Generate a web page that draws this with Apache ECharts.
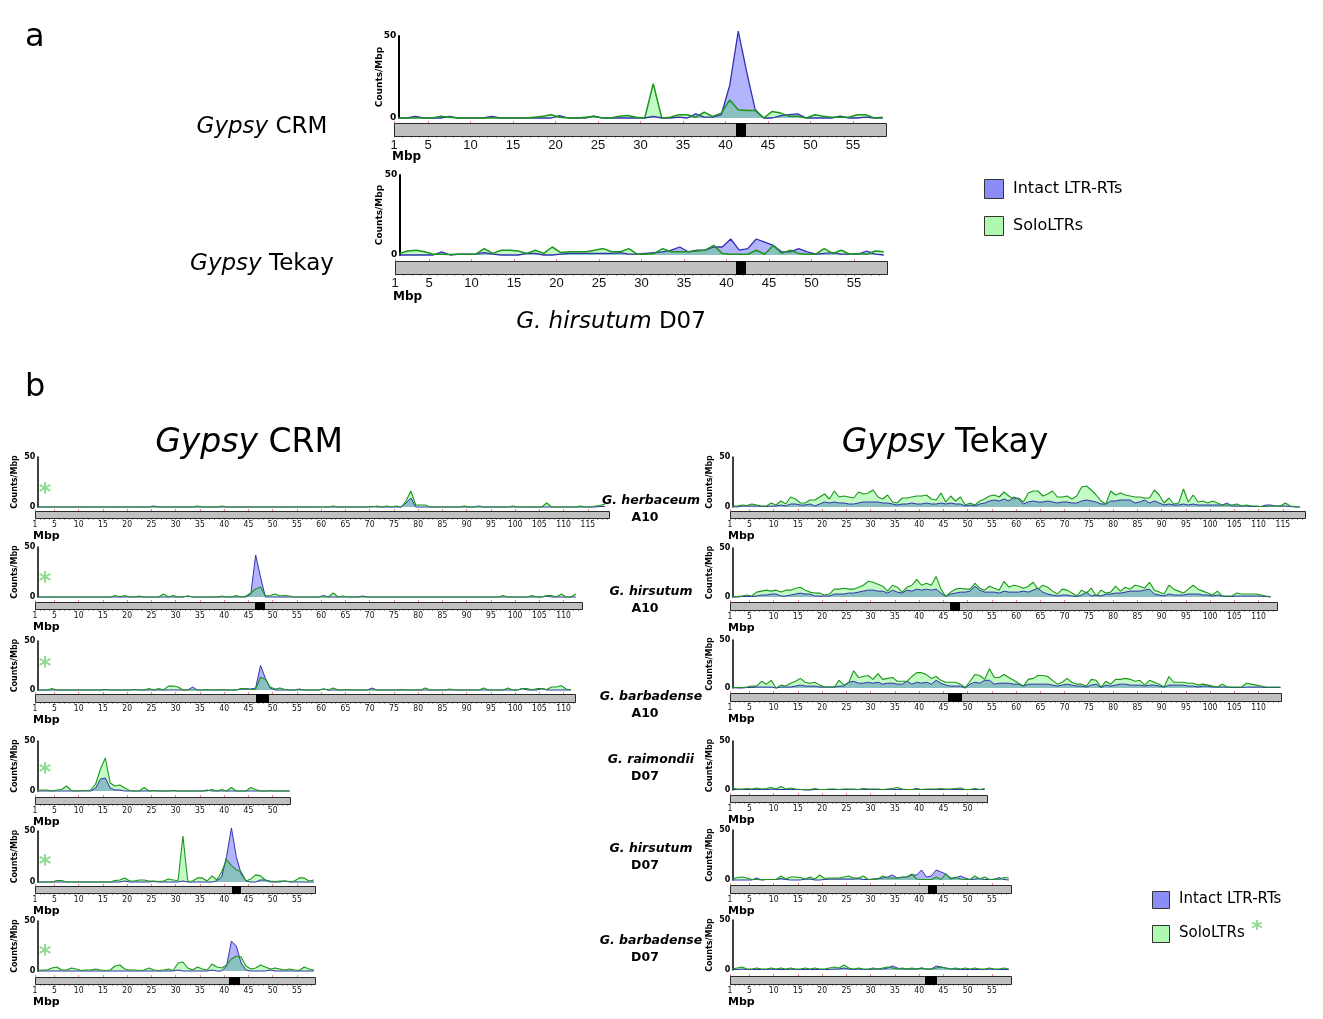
<!DOCTYPE html>
<html><head><meta charset="utf-8">
<script src="https://cdn.jsdelivr.net/npm/echarts@6/dist/echarts.min.js"></script>
<style>html,body{margin:0;padding:0;background:#fff}#c{width:1323px;height:1019px}</style>
</head><body><div id="c"></div>
<script>
// ---------- tick labels (Mbp) ----------
const ticks119 = [1,5,10,15,20,25,30,35,40,45,50,55,60,65,70,75,80,85,90,95,100,105,110,115];
const ticks113 = [1,5,10,15,20,25,30,35,40,45,50,55,60,65,70,75,80,85,90,95,100,105,110];
const ticks58 = [1,5,10,15,20,25,30,35,40,45,50,55];
const ticks53 = [1,5,10,15,20,25,30,35,40,45,50];
// values are counts per 1-Mbp window; window i is plotted at 1.5 + i Mbp
// ---------- panel a : G. hirsutum D07 ----------
const aCrmIntact = [0,0,1,0,0,0,1,0,0,0, 0,1,0,0,0,0,0,0,0,1.5, 0,0,0,1.2,0,0,0,0,0,0,
 1,0,0,0.5,0,2.5,0.5,0.5,2,20, 53,28,5,0,0,1.5,2,2.5,0,0, 0,0,1.2,0,0,0.5,0,0];
const aCrmSolo = [0,0,0,0,0,1,0.5,0,0,0, 0,0,0,0,0,0,0.5,1,2,0.5, 0,0,0.5,1,0,0,1,1.5,0.5,0,
 21,0,0.5,2,2,0.5,3.5,1,3,11, 5,4.5,4.5,0,4,3,1,1,0,2, 1,0.5,0.5,0.5,2,2,0,0.5];
const aTekayIntact = [0,0,0,0,0,2,0,0.5,0.5,0.5, 1.5,0.5,0,0,0,1,1,0,0,0.5, 1,1,1,1,1,1,1.5,0.5,0.5,1,
 1.5,2,3,5,2,3,3,5,5,10, 3,4,10,8,6,2,2,4,2,0.5, 1,1.5,0.5,0.5,0.5,2.5,0.5,0];
const aTekaySolo = [1,2.5,3,2,0.5,0.5,0.3,0.5,0.5,0.5, 4,1,3,3,2.5,1,3,1,5,1.5, 2,2,2,3,4,2,2,4,0.5,0.5,
 1,4,2,2,2,2.5,3,6,1,0.5, 0.5,0.5,3,0.5,6,1,3,1,0.5,0.5, 4,1,3,0.5,1,0.5,2.5,2];
// ---------- panel b ----------
const herbA10CrmIntact = [0,0,0,0,0,0,0,0,0,0, 0,0,0,0,0,0,0,0,0,0, 0,0,0,0,1,0,0,0,0,0, 0,0,0,0,0,0,0,0,0,0,
 0,0,0,0,0,0,0,0,0,0, 0,0,0,0,0,0,0,0,0,0, 0,0,0,0,0,0,0,0,0,0.5, 0,0,0,0,0,0,4,9,0,0,
 0,0,0,0,0,0,0,0,0,0, 0,1,0,0,0,0,0,0,0,0, 0,0,0,0,0,0,0,0,0,0, 0,0,0,0,0,0,0.5,0.5];
const herbA10CrmSolo = [0,0,0,0,0,0,0,0,0,0, 0,0,0,0,0,0,0,0,0,0, 0,0,0,0,0,0,0,0,0,0, 0,0,0,1,0,0,0,0,1,0,
 0,0,0,0,0,0,0,0,0,0, 0,0,0,0,0,0,0,0,0,0, 0,1,0,0,0,0,0,0,0,0, 1,0,1,0,1,0,6,16,2,2,
 2,0,0,0,0,0,0,0,1,0, 0,0,0,0,0,0,0,0,1,0, 0,0,0,0,0,4,0,0,0,0, 0,0,1,0,0,1,1.5,3];
const herbA10TekayIntact = [0.5,0,1,1,1,1,0.5,0.5,1,1, 2,1,3,3,2,2,3,1,3,5, 4,5,4,4,3,3,4,5,5,5, 5,4,4,3,2,3,3,4,3,3,
 4,3,3,4,3,4,3,3,1,2, 1,3,4,6,7,6,8,6,10,8, 3,5,6,5,5,6,5,4,5,5, 4,4,6,7,6,5,3,3,6,6,
 7,7,7,4,5,7,4,6,4,2, 3,2,2,3,2,3,2,2,2,2, 2,2,4,1,1,1,1,0.5,0.5,0.5, 2,2,1,1,1,0.5,0,0];
const herbA10TekaySolo = [1,1,2,1.5,3,2,1,1,4,2, 6,3,10,8,4,4,7,7,10,13, 8,16,10,11,10,9,15,13,14,17, 10,8,12,5,4,9,9,10,11,11,
 12,8,7,14,5,11,6,10,2,4, 2,6,8,11,12,10,15,11,8,9, 5,14,16,16,11,13,16,10,10,11, 8,11,20,21,17,12,6,3,16,12,
 14,12,11,10,10,9,9,17,12,4, 9,3,4,18,5,12,5,6,4,6, 4,2,2,2,3,1,2,1,1,0.5, 0.5,1,1,1,4,1,0.5,0];
const hirsA10CrmIntact = [0,0,0,0,0,0,0,0,0,0, 0,0,0,0,0,0,0,0,0,0, 0,0,0,0,0,0,0,0,0,0, 0,1,0,0,0,0,0,0,0,0,
 0,0,0,0,3,42,20,0,0,0, 0,0,0,0,0,0,0,0,0,1.5, 0,0,0,0,0,0,0,1,0,0, 0,0,0,0,0,0,0,0,0,0,
 0,0,0,0,0,0,0,0,0,0, 0,0,0,0,0,0,0,0,0,0, 0,0,0,0,0,1,0,0,0,0, 0,0];
const hirsA10CrmSolo = [0,0,0,0,0,0,0,0,0,0, 0,0,0,0,0,0,1.5,0,1.5,0, 0,1,0,0,0,0,3,0,1.5,0, 0,1,0,0,0,0,0,0,1,0,
 0,1.5,0,1,4,8,10,1,1.5,3, 1,1.5,1,0,0,0,0,0,0,0, 0,4,0,1,0,0,0,0,0,0, 0,0,0,0,0,0,0,0,0,0,
 0,0,0,0,0,0,0,0,0,0, 0,0,0,0,0,0,1.5,0,0,0, 0,0,1.5,0,0,1.5,1.5,0,3,0, 0,3];
const hirsA10TekayIntact = [0,0,0.5,0.5,0.5,1,2,2,3,3, 1,1,2,3,4,3,3,1,1,1, 1,3,3,3,4,4,5,6,7,7, 6,6,4,7,5,4,7,6,8,7,
 8,7,8,4,0.5,3,4,5,5,6, 11,7,5,5,5,4,6,5,5,5, 6,5,7,9,5,3,2,1,2,2, 1,0.5,2,5,1,2,1,3,3,4,
 4,5,6,6,6,7,8,3,2,1, 3,2,2,2,3,3,3,2,2,1, 2,1,0.5,0.5,1,1,1,1,1,1, 0.5,0];
const hirsA10TekaySolo = [0.5,0.5,1,2,1,5,6,7,6,7, 5,7,7,9,10,7,5,4,4,2, 3,8,8,9,8,8,10,12,16,15, 13,11,6,12,10,5,10,12,18,12,
 14,12,21,8,0.5,5,8,9,8,8, 14,9,7,11,9,7,16,10,12,11, 9,11,15,8,12,10,6,3,8,7, 4,1,7,4,9,1,7,4,5,11,
 6,10,8,12,11,9,15,7,5,3, 12,8,6,4,8,12,8,6,4,2, 6,1,1,1,4,3,3,3,3,2, 1,0.5];
const barbA10CrmIntact = [0,0,0,0,0,0,0,0,0,0, 0,0,0,0,0.5,0,0,0,0,0, 0.5,0,0,0,0,0,0,0,0,0, 0,0,3,0,0,0,0,0,0,0,
 0,0,1,1,1,2,25,12,2,0, 0,0,0,0,1,0,0,0,0,1, 0,0,0,0,0,0,0,0,0,2, 0,0,0,0,0,0,0,0,0,0,
 0,0,0,0,0,0,0,0,0,0, 0,0,0,0,0,0,0,0,0,0, 1.5,0,0,0,1.5,0,0,0,0,0, 0];
const barbA10CrmSolo = [0,0,0,1.5,0,0,0,0,0,0, 0,0,0,0,0,0,0,0,0,0, 0,0,0,1.5,0,1.5,0,4,4,3, 0,0,0,0,0,0.5,0,0,0.5,0,
 0,0,1.5,1.5,0.5,1,13,11,3,1, 2,0.5,0,0,0,0,0,0,0,1, 0,2,0,0,0.5,0,0,0,0,0, 0,0,0,0,0,0.5,0,0,0,0,
 2,0,0,0,0,1,0,0,0,0, 0,0,2,0,0,0,0,2,0,0, 1.5,1.5,0,1.5,1.5,0.5,3,3,4.5,1, 0];
const barbA10TekayIntact = [0.5,0,0,0.5,0.5,1,1,1,1,0, 1,1,1,2,3,2,2,2,1,1, 1,1,2,2,6,7,5,5,6,5, 6,4,5,5,4,4,7,4,6,5,
 6,4,8,5,3,2,2,2,0,4, 6,5,8,8,4,5,5,5,4,4, 2,4,4,4,4,4,3,2,3,4, 3,2,2,1,3,4,0.5,3,2,3,
 4,4,3,3,3,2,3,3,2,1, 3,3,3,3,2,2,1,2,2,1, 1,1,1,0.5,0.5,0.5,1,1,1,1, 0.5,0.5,0.5,0.5];
const barbA10TekaySolo = [0.5,0.5,0.5,1,2,2,7,4,8,0, 3,2,5,7,10,6,5,6,3,1, 1,1,8,3,6,18,11,12,13,9, 15,9,10,11,7,7,7,12,16,16,
 14,10,12,8,6,6,6,4,0.5,7, 14,13,9,20,11,11,14,11,8,5, 2,9,10,13,13,12,8,4,6,10, 6,4,4,2,9,8,1,7,4,9,
 9,10,9,7,8,3,8,6,4,1, 12,6,6,6,5,5,3,4,3,2, 1,4,1,1,1,1,5,4,3,2, 1,1,1,1];
const raimD07CrmIntact = [0,0,0,0,0,0,0,0,0,0, 0,0,3,12,13,3,1,1,0,0, 0,0,0,0,0.5,0,0,0,0.5,0, 0,0,0,0,0,1,0,0,0,0,
 0,0,0,0,0,0,0,0,0,0, 0,0,0];
const raimD07CrmSolo = [0.5,1,1,0,1,1.5,5,0.5,0,0.5, 0.5,1,7,22,33,8,5,6,3,0.5, 0,0,3.5,0,0,0,0,0,0,0, 0,0,0,0,0,0,1.5,0,1.5,0,
 3.5,0,0,0,3.5,1.5,0,0,0.5,0, 0,0,0];
const raimD07TekayIntact = [0.5,0.5,0.5,0.5,0.5,0.5,0.5,0.5,1,0.5, 0.5,0.5,0.5,0.5,0.5,0,0,0.5,0.5,0.5, 0.5,0.5,0.5,0.5,0.5,0.5,0.5,0.5,0.5,0.5,
 0.5,0.5,0.5,0.5,0.5,0.5,0.5,0.5,1.5,0.5, 0.5,0.5,0.5,0.5,0.5,0.5,0.5,0.5,0.5,0.5, 0.5,0.5,0.5];
const raimD07TekaySolo = [2,1,1,1.5,1,2,1,1.5,2.5,1, 3.5,1,2,1,0.5,0.5,0.5,1.5,0.5,0.5, 1,1,0.5,1,1,1,0.5,1.5,1,1,
 1,0.5,1,1.5,2.5,1,0.5,0.5,0.5,0.5, 1,1,1,1.5,1,1,1.5,2,0.5,0.5, 1.5,0.5,1.5];
const hirsD07CrmIntact = [0,0,0,0,0,0,0,0,0,0, 0,0,0,0,0,0,0,0,1,0, 0,0,0,0,0.5,0,0,0,0,0,
 1,0,0,0,0,0,0,1,5,25, 53,25,8,1,0,0,2,2,0,0, 0,1,0,0,0,0,0,0];
const hirsD07CrmSolo = [0,0,0,0,1.5,1.5,0,0,0,0, 0,0,0,0,0,0,1.5,2,4,1, 1,2,2,1,1,0.5,1,3,2,1.5,
 45,0.5,1,4,4,1,6,2,10,22, 16,12,10,1,3,7,6,2,1,0.5, 1,1,0.5,1,4,4,1,2];
const hirsD07TekayIntact = aTekayIntact;
const hirsD07TekaySolo = aTekaySolo;
const barbD07CrmIntact = [0,0,0,0,0,0,0,0,0,0, 0,0,0,0,0,0,0,0,0,0, 0,0,0,0,0,0,0,0,0,1,
 0,0,0,0,0,0,1,0,0,5, 30,25,8,1,0,0,0,0,1,0, 0,0,0,0,0,0,0,0];
const barbD07CrmSolo = [0.5,1,1,3,4,1,1,3,2,0.5, 1,1,2,1,0.5,1,5,6,2,1, 1,0.5,1,3,1,0.5,1,2,0.5,8,
 9,3,1,4,2,1,7,4,3,6, 12,15,14,5,2,3,6,4,2,3, 2,1,2,1,0.5,4,2,1];
const barbD07TekayIntact = [0.5,0.5,1,0.5,0.5,0.5,0.5,0.5,1,0.5, 0.5,0.5,1,0.5,0.5,0.5,0.5,0.5,0.5,0.5, 0.5,1,1,2,1,0.5,1,0.5,0.5,1,
 1,1,2,4,2,1,1,1,1,2, 1,1,4,3,2,1,1,0.5,0.5,0.5, 0.5,0.5,0.5,1,0.5,0.5,0.5,0.5];
const barbD07TekaySolo = [1,2,3,1,1,2,1,1,2,1, 2,1,2,1,1,2,1,2,1,1, 2,3,2,5,2,1,2,1,1,2,
 1,2,3,2,1,2,1,2,1,2, 1,1,2,3,2,1,2,1,2,1, 2,1,1,2,1,1,2,1];
// chromosome lengths and centromeres (Mbp)
const chrLen = {hirsD07:58.9, herbA10:119.3, hirsA10:113.7, barbA10:112.3, barbA10T:114.7, raimD07:53.6, raimD07T:54, d07b:58.7};
const centromeres = {aCrm:[41.2,42.2], aTekay:[41.1,42.2], hirsA10:[46.4,48.2], barbA10:[46.5,49.0], barbA10T:[46.0,48.7],
  hirsD07L:[41.6,43.3], hirsD07R:[41.9,43.5], barbD07L:[41.0,43.0], barbD07R:[41.3,43.5]};
const speciesNames = ['G. herbaceum','G. hirsutum','G. barbadense','G. raimondii','G. hirsutum','G. barbadense'];
const chromNames = ['A10','A10','A10','D07','D07','D07'];
const legendNames = ['Intact LTR-RTs','SoloLTRs'];

// ---------- layout ----------
const FONT = '"DejaVu Sans", Verdana, sans-serif';
const NARROW = '"Liberation Sans Narrow","DejaVu Sans Condensed","Liberation Sans",sans-serif';
const BLUE_FILL = 'rgba(20,20,245,0.45)', BLUE_LINE = '#3232b0';
const GREEN_FILL = 'rgba(0,235,0,0.33)', GREEN_LINE = '#1c961c';
const PB = 4.85;
const panels = [
  {I:aCrmIntact,S:aCrmSolo,t:ticks58,L:394,ppm:8.5,chr:chrLen.hirsD07,cen:centromeres.aCrm,y50:36,y0:118,bt:123,bb:136,big:true,cx:380,mx:392,my:157},
  {I:aTekayIntact,S:aTekaySolo,t:ticks58,L:395,ppm:8.5,chr:chrLen.hirsD07,cen:centromeres.aTekay,y50:175,y0:255,bt:261,bb:274,big:true,cx:380,mx:393,my:297},
  // left column (CRM)
  {I:herbA10CrmIntact,S:herbA10CrmSolo,t:ticks119,L:35,ppm:PB,chr:chrLen.herbA10,cen:null,y50:457,y0:507,bt:511,bb:518,ast:489},
  {I:hirsA10CrmIntact,S:hirsA10CrmSolo,t:ticks113,L:35,ppm:PB,chr:chrLen.hirsA10,cen:centromeres.hirsA10,y50:547,y0:597,bt:602,bb:609,ast:578},
  {I:barbA10CrmIntact,S:barbA10CrmSolo,t:ticks113,L:35,ppm:PB,chr:chrLen.barbA10,cen:centromeres.barbA10,y50:641,y0:690,bt:694,bb:702,ast:663},
  {I:raimD07CrmIntact,S:raimD07CrmSolo,t:ticks53,L:35,ppm:PB,chr:chrLen.raimD07,cen:null,y50:741,y0:791,bt:797,bb:804,ast:769},
  {I:hirsD07CrmIntact,S:hirsD07CrmSolo,t:ticks58,L:35,ppm:PB,chr:chrLen.d07b,cen:centromeres.hirsD07L,y50:831,y0:882,bt:886,bb:893,ast:861},
  {I:barbD07CrmIntact,S:barbD07CrmSolo,t:ticks58,L:35,ppm:PB,chr:chrLen.d07b,cen:centromeres.barbD07L,y50:921,y0:971,bt:977,bb:984,ast:951},
  // right column (Tekay)
  {I:herbA10TekayIntact,S:herbA10TekaySolo,t:ticks119,L:730,ppm:PB,chr:chrLen.herbA10+0.2,cen:null,y50:457,y0:507,bt:511,bb:518},
  {I:hirsA10TekayIntact,S:hirsA10TekaySolo,t:ticks113,L:730,ppm:PB,chr:chrLen.hirsA10,cen:centromeres.hirsA10,y50:548,y0:597,bt:602,bb:610},
  {I:barbA10TekayIntact,S:barbA10TekaySolo,t:ticks113,L:730,ppm:PB,chr:chrLen.barbA10T,cen:centromeres.barbA10T,y50:640,y0:688,bt:693,bb:701},
  {I:raimD07TekayIntact,S:raimD07TekaySolo,t:ticks53,L:730,ppm:PB,chr:chrLen.raimD07T,cen:null,y50:741,y0:790,bt:795,bb:802},
  {I:hirsD07TekayIntact,S:hirsD07TekaySolo,t:ticks58,L:730,ppm:PB,chr:chrLen.hirsD07,cen:centromeres.hirsD07R,y50:830,y0:880,bt:885,bb:893},
  {I:barbD07TekayIntact,S:barbD07TekaySolo,t:ticks58,L:730,ppm:PB,chr:chrLen.hirsD07,cen:centromeres.barbD07R,y50:920,y0:970,bt:976,bb:984}
];

function renderChr(params, api){
  const a = api.coord([api.value(0), 1]);
  const b = api.coord([api.value(1), 0]);
  const kind = api.value(2);
  return {type:'rect', shape:{x:Math.round(a[0])+0.5, y:Math.round(a[1])+0.5, width:Math.round(b[0]-a[0]), height:Math.round(b[1]-a[1])},
    style:{fill: kind ? '#000' : '#c0c0c0', stroke: kind ? '#000' : '#2a2a2a', lineWidth: 1}};
}

const grid=[], xAxis=[], yAxis=[], series=[], graphic=[];
panels.forEach(p => {
  const big = !!p.big;
  const gi = grid.length;
  grid.push({left:p.L+0.5*p.ppm, top:p.y50, width:(p.chr-1.5)*p.ppm, height:p.y0-p.y50});
  const xi = xAxis.length;
  xAxis.push({gridIndex:gi, type:'value', min:1.5, max:p.chr, show:false});
  const yi = yAxis.length;
  yAxis.push({gridIndex:gi, type:'value', min:0, max:50, interval:50,
    axisLine:{show:true, lineStyle:{color:'#000', width: big?2:1.5}}, axisTick:{show:false}, splitLine:{show:false},
    axisLabel:{margin:2, color:'#000', fontWeight:'bold', fontSize: big?9:8, fontFamily:FONT}});
  series.push({type:'line', name:legendNames[0], xAxisIndex:xi, yAxisIndex:yi, symbol:'none', clip:false, silent:true,
    data:p.I.map((v,i)=>[1.5+i, v]), lineStyle:{color:BLUE_LINE, width: big?1.3:1}, areaStyle:{color:BLUE_FILL}});
  series.push({type:'line', name:legendNames[1], xAxisIndex:xi, yAxisIndex:yi, symbol:'none', clip:false, silent:true,
    data:p.S.map((v,i)=>[1.5+i, v]), lineStyle:{color:GREEN_LINE, width: big?1.5:1.1}, areaStyle:{color:GREEN_FILL}});
  const gj = grid.length;
  grid.push({left:p.L, top:p.bt, width:(p.chr-1)*p.ppm, height:p.bb-p.bt});
  const xj = xAxis.length;
  const ints = Array.from({length:Math.floor(p.chr)}, (_,i)=>i+1);
  xAxis.push({gridIndex:gj, type:'value', min:1, max:p.chr, axisLine:{show:false}, splitLine:{show:false},
    axisTick:{show:true, customValues:ints, length:2, lineStyle:{color:'#a0a0a0', width:1}},
    axisLabel:{customValues:p.t, margin: big?3:2, color:'#111', fontSize: big?13:8.5, fontFamily: big?'"Liberation Sans",Arial,sans-serif':NARROW}});
  xAxis.push({gridIndex:gj, type:'value', min:1, max:p.chr, axisLine:{show:false}, splitLine:{show:false}, offset:0,
    axisTick:{show:true, customValues:p.t, length:2, lineStyle:{color:'#e88a8a', width:1}}, axisLabel:{show:false}});
  const yj = yAxis.length;
  yAxis.push({gridIndex:gj, type:'value', min:0, max:1, show:false});
  const chrData = [[1, p.chr, 0]];
  if (p.cen) chrData.push([p.cen[0], p.cen[1], 1]);
  series.push({type:'custom', xAxisIndex:xj, yAxisIndex:yj, data:chrData, renderItem:renderChr, silent:true});
  graphic.push({type:'text', x: big ? p.mx : p.L-2, y: big ? p.my : p.bb+18,
    style:{text:'Mbp', font:`bold ${big?12:11}px ${FONT}`, fill:'#000', align:'left', verticalAlign:'middle'}});
  graphic.push({type:'text', x: big ? p.cx : p.L-20, y:(p.y50+p.y0)/2, rotation:Math.PI/2,
    style:{text:'Counts/Mbp', font:`bold ${big?9:8}px ${FONT}`, fill:'#000', align:'center', verticalAlign:'middle'}});
  if (p.ast) graphic.push({type:'text', x:p.L+10, y:p.ast+5,
    style:{text:'*', font:`bold 24px ${FONT}`, fill:'#8edd8e', align:'center', verticalAlign:'middle'}});
});

const rich = s => ({i:{fontStyle:'italic', fontSize:s, fontFamily:FONT, fill:'#000'}, n:{fontSize:s, fontFamily:FONT, fill:'#000'}});
graphic.push({type:'text', x:25, y:38, style:{text:'a', font:`32px ${FONT}`, fill:'#000', verticalAlign:'middle'}});
graphic.push({type:'text', x:25, y:388, style:{text:'b', font:`32px ${FONT}`, fill:'#000', verticalAlign:'middle'}});
graphic.push({type:'text', x:262, y:127, style:{text:'{i|Gypsy}{n| CRM}', rich:rich(23), align:'center', verticalAlign:'middle'}});
graphic.push({type:'text', x:262, y:264, style:{text:'{i|Gypsy}{n| Tekay}', rich:rich(23), align:'center', verticalAlign:'middle'}});
graphic.push({type:'text', x:611, y:322, style:{text:'{i|G. hirsutum}{n| D07}', rich:rich(23), align:'center', verticalAlign:'middle'}});
graphic.push({type:'text', x:249, y:443, style:{text:'{i|Gypsy}{n| CRM}', rich:rich(33), align:'center', verticalAlign:'middle'}});
graphic.push({type:'text', x:945, y:443, style:{text:'{i|Gypsy}{n| Tekay}', rich:rich(33), align:'center', verticalAlign:'middle'}});
const spY = [501, 592, 697, 760, 849, 941];
speciesNames.forEach((s,k)=>{
  graphic.push({type:'text', x:651, y:spY[k], style:{text:s, font:`italic bold 12.5px ${FONT}`, fill:'#000', align:'center', verticalAlign:'middle'}});
  graphic.push({type:'text', x:645, y:spY[k]+17, style:{text:chromNames[k], font:`bold 12.5px ${FONT}`, fill:'#000', align:'center', verticalAlign:'middle'}});
});
function legend(x, y1, y2, sz, fs){
  graphic.push({type:'rect', shape:{x:x+0.5, y:y1+0.5, width:sz, height:sz}, style:{fill:'#8c8cf7', stroke:'#333', lineWidth:1}});
  graphic.push({type:'rect', shape:{x:x+0.5, y:y2+0.5, width:sz, height:sz}, style:{fill:'#b0f7b0', stroke:'#333', lineWidth:1}});
  graphic.push({type:'text', x:x+sz+10, y:y1+sz/2, style:{text:legendNames[0], font:`${fs}px ${FONT}`, fill:'#000', verticalAlign:'middle'}});
  graphic.push({type:'text', x:x+sz+10, y:y2+sz/2, style:{text:legendNames[1], font:`${fs}px ${FONT}`, fill:'#000', verticalAlign:'middle'}});
}
legend(984, 179, 216, 19, 16);
legend(1152, 891, 925, 17, 15);
graphic.push({type:'text', x:1257, y:930, style:{text:'*', font:`bold 22px ${FONT}`, fill:'#8edd8e', align:'center', verticalAlign:'middle'}});

const chart = echarts.init(document.getElementById('c'), null, {renderer:'canvas'});
chart.setOption({animation:false, backgroundColor:'#fff', grid, xAxis, yAxis, series, graphic});
</script></body></html>
